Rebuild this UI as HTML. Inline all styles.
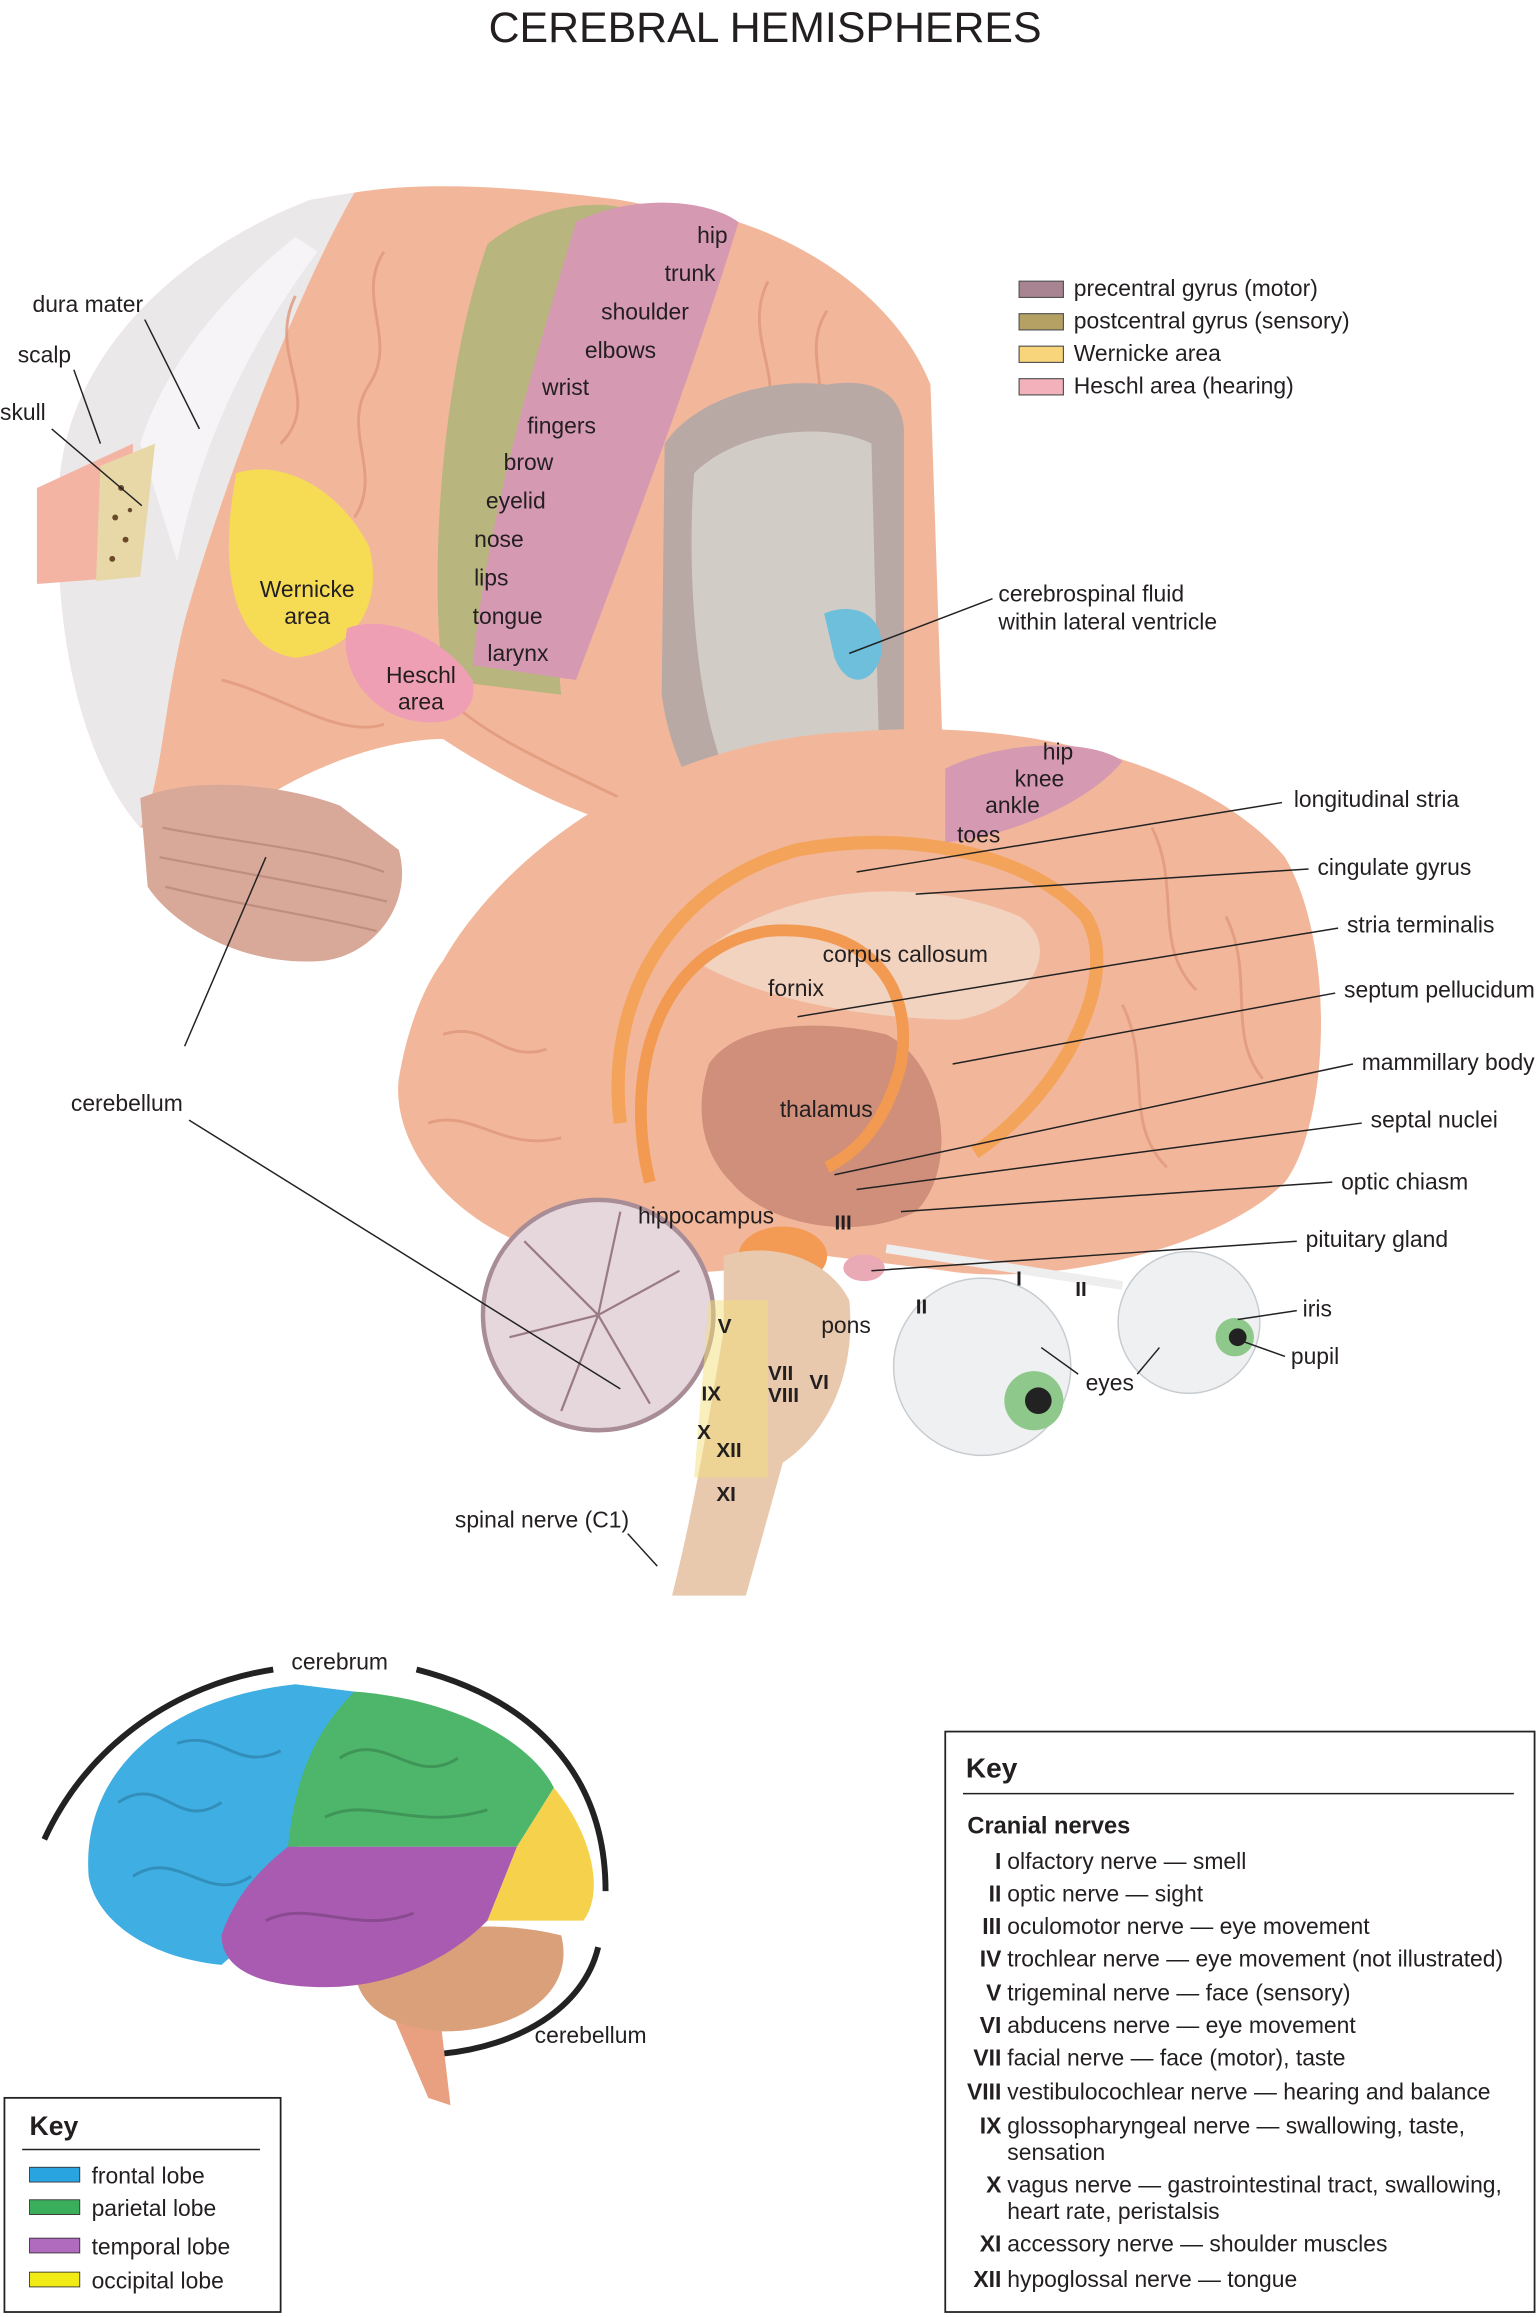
<!DOCTYPE html>
<html><head><meta charset="utf-8"><style>
html,body{margin:0;padding:0;background:#fff}
svg{display:block}
text{font-family:"Liberation Sans",Arial,sans-serif;fill:#231f20}
</style></head><body>
<svg width="1539" height="2317" viewBox="0 0 1042 1568" xmlns="http://www.w3.org/2000/svg">
<text x="518" y="28" font-size="29" text-anchor="middle" fill="#333">CEREBRAL HEMISPHERES</text>

<!-- upper brain -->
<path d="M40,330 C45,240 120,170 210,135 L240,130 C300,120 380,130 420,135 L500,150 C560,170 610,210 630,260 L640,560 L540,580 L440,560 C400,560 330,520 300,500 C260,500 200,520 150,560 L95,560 C60,520 35,440 40,330Z" fill="#f2b79b"/>
<path d="M40,330 C45,240 120,170 210,135 L240,130 C200,200 150,330 125,420 C110,480 110,530 95,560 C60,520 35,440 40,330Z" fill="#ebe8ea"/>
<path d="M95,300 C110,250 150,200 200,160 L215,170 C170,230 135,300 120,380 Z" fill="#f6f4f6"/>
<g fill="none" stroke="#e0987c" stroke-width="2" opacity="0.8">
<path d="M260,170 C240,200 270,230 250,260 C230,290 260,320 240,350"/>
<path d="M200,200 C180,240 220,270 190,300"/>
<path d="M150,460 C190,470 230,500 260,490"/>
<path d="M520,190 C500,230 540,260 510,300"/>
<path d="M560,210 C540,240 570,270 545,300"/>
<path d="M300,470 C330,500 380,520 420,540"/>
</g>
<path d="M330,165 C360,140 400,135 420,140 C400,250 370,380 380,470 L300,460 C290,380 300,250 330,165Z" fill="#b8b57e"/>
<path d="M390,150 C430,130 480,135 500,150 C470,250 420,380 390,460 L320,450 C330,350 360,250 390,150Z" fill="#d699b2"/>
<path d="M160,320 C190,310 230,330 250,370 C260,410 240,440 200,445 C165,440 145,400 160,320Z" fill="#f6dc55"/>
<path d="M235,425 C260,415 300,430 320,460 C325,485 300,495 270,485 C245,475 230,450 235,425Z" fill="#ef9fb3"/>
<path d="M95,540 C130,525 190,530 230,545 L270,575 C280,610 255,645 220,650 C170,655 120,630 100,600Z" fill="#d8a898"/>
<g fill="none" stroke="#c08e80" stroke-width="1.5"><path d="M110,560 C160,570 220,575 260,590"/><path d="M108,580 C160,590 220,600 262,610"/><path d="M112,600 C160,612 215,620 255,630"/></g>
<!-- coronal section -->
<path d="M450,300 C470,270 520,255 560,260 C590,255 610,265 612,290 L612,520 C600,555 560,575 520,575 C480,565 455,520 448,470Z" fill="#b8a9a5"/>
<path d="M470,320 C500,290 560,285 590,300 L595,500 C570,540 520,545 490,520 C470,470 465,380 470,320Z" fill="#d2ccc6"/>
<path d="M558,415 C575,408 598,412 597,440 C595,460 575,470 565,445 Z" fill="#6dbfdc"/>
<!-- scalp/skull -->
<path d="M25,330 L90,300 L90,390 L25,395Z" fill="#f4b4a4"/>
<path d="M68,315 L105,300 L95,390 L65,393Z" fill="#e8d8a8"/>
<g fill="#6b4a2a"><circle cx="82" cy="330" r="2"/><circle cx="78" cy="350" r="2"/><circle cx="85" cy="365" r="2"/><circle cx="76" cy="378" r="2"/><circle cx="88" cy="345" r="1.5"/></g>

<!-- medial brain -->
<path d="M300,650 C340,580 440,500 580,495 C700,485 820,520 870,580 C905,640 900,760 870,800 C820,850 700,870 640,860 L560,850 C500,860 440,870 380,850 C300,830 265,770 270,730 C275,700 285,670 300,650Z" fill="#f2b79b"/>
<g fill="none" stroke="#e0987c" stroke-width="2" opacity="0.8">
<path d="M300,700 C330,690 340,720 370,710"/><path d="M290,760 C320,750 340,780 380,770"/>
<path d="M780,560 C800,600 780,640 810,670"/><path d="M830,620 C850,660 830,700 855,730"/>
<path d="M760,680 C780,720 760,760 790,790"/>
</g>
<path d="M640,520 C680,500 740,500 760,515 C740,540 690,565 640,570Z" fill="#d699b2"/>
<path d="M470,650 C520,600 620,590 690,620 C720,640 700,680 650,690 C600,690 520,680 470,650Z" fill="#f1d3c0"/>
<path d="M480,720 C500,690 560,690 600,700 C640,720 650,790 620,820 C580,840 520,830 495,800 C475,780 470,750 480,720Z" fill="#cf8f7a"/>
<path d="M420,760 C410,680 450,600 540,575 C620,560 700,580 735,620 C760,660 720,740 660,780" fill="none" stroke="#f4a35a" stroke-width="9"/>
<path d="M440,800 C420,720 450,640 520,630 C580,625 620,660 610,720 C600,760 580,780 560,790" fill="none" stroke="#f29a52" stroke-width="8"/>
<ellipse cx="530" cy="850" rx="30" ry="20" fill="#f39b55"/>
<ellipse cx="585" cy="858" rx="14" ry="9" fill="#e9a9b5"/>
<!-- cerebellum section -->
<circle cx="405" cy="890" r="78" fill="#e6d7dc" stroke="#a88c96" stroke-width="3"/>
<g stroke="#9a7a86" stroke-width="1.5" fill="none"><path d="M405,890 L355,840"/><path d="M405,890 L345,905"/><path d="M405,890 L380,955"/><path d="M405,890 L440,950"/><path d="M405,890 L460,860"/><path d="M405,890 L420,820"/></g>
<!-- brainstem -->
<path d="M490,850 C520,840 560,850 575,880 C580,930 560,970 530,990 L505,1080 L455,1080 C470,1020 480,960 490,900Z" fill="#e8c9ae"/>
<path d="M480,880 L520,880 L520,1000 L470,1000Z" fill="#f2e07a" opacity="0.5"/>
<!-- eyes -->
<circle cx="665" cy="925" r="60" fill="#eef0f2" stroke="#c8ccd0"/>
<circle cx="700" cy="948" r="20" fill="#8ec88a"/><circle cx="703" cy="948" r="9" fill="#222"/>
<circle cx="805" cy="895" r="48" fill="#eef0f2" stroke="#c8ccd0"/>
<circle cx="836" cy="905" r="13" fill="#8ec88a"/><circle cx="838" cy="905" r="6" fill="#222"/>
<line x1="600" y1="845" x2="760" y2="870" stroke="#eee" stroke-width="6"/>

<!-- labels upper -->
<g font-size="15.5">
<text x="22" y="211">dura mater</text><line x1="98" y1="216" x2="135" y2="290" stroke="#222"/>
<text x="12" y="245">scalp</text><line x1="50" y1="250" x2="68" y2="300" stroke="#222"/>
<text x="0" y="284">skull</text><line x1="35" y1="290" x2="96" y2="342" stroke="#222"/>
<text x="472" y="164">hip</text><text x="450" y="190">trunk</text><text x="407" y="216">shoulder</text>
<text x="396" y="242">elbows</text><text x="367" y="267">wrist</text><text x="357" y="293">fingers</text>
<text x="341" y="318">brow</text><text x="329" y="344">eyelid</text><text x="321" y="370">nose</text>
<text x="321" y="396">lips</text><text x="320" y="422">tongue</text><text x="330" y="447">larynx</text>
<text x="208" y="404" text-anchor="middle">Wernicke</text><text x="208" y="422" text-anchor="middle">area</text>
<text x="285" y="462" text-anchor="middle">Heschl</text><text x="285" y="480" text-anchor="middle">area</text>
<text x="676" y="407">cerebrospinal fluid</text><text x="676" y="426">within lateral ventricle</text>
<line x1="672" y1="405" x2="575" y2="442" stroke="#222"/>
<text x="706" y="514">hip</text><text x="687" y="532">knee</text><text x="667" y="550">ankle</text><text x="648" y="570">toes</text>
<text x="876" y="546">longitudinal stria</text><line x1="868" y1="543" x2="580" y2="590" stroke="#222"/>
<text x="892" y="592">cingulate gyrus</text><line x1="886" y1="588" x2="620" y2="605" stroke="#222"/>
<text x="912" y="631">stria terminalis</text><line x1="906" y1="628" x2="540" y2="688" stroke="#222"/>
<text x="910" y="675">septum pellucidum</text><line x1="904" y1="672" x2="645" y2="720" stroke="#222"/>
<text x="922" y="724">mammillary body</text><line x1="916" y1="720" x2="565" y2="795" stroke="#222"/>
<text x="928" y="763">septal nuclei</text><line x1="922" y1="760" x2="580" y2="805" stroke="#222"/>
<text x="908" y="805">optic chiasm</text><line x1="902" y1="800" x2="610" y2="820" stroke="#222"/>
<text x="884" y="844">pituitary gland</text><line x1="878" y1="840" x2="590" y2="860" stroke="#222"/>
<text x="557" y="651">corpus callosum</text><text x="520" y="674">fornix</text>
<text x="528" y="756">thalamus</text><text x="432" y="828">hippocampus</text>
<text x="556" y="902">pons</text><text x="882" y="891">iris</text><line x1="878" y1="887" x2="838" y2="893" stroke="#222"/>
<text x="874" y="923">pupil</text><line x1="870" y1="918" x2="842" y2="908" stroke="#222"/>
<text x="735" y="941">eyes</text><line x1="730" y1="930" x2="705" y2="912" stroke="#222"/><line x1="770" y1="930" x2="785" y2="912" stroke="#222"/>
<text x="48" y="752">cerebellum</text><line x1="125" y1="708" x2="180" y2="580" stroke="#222"/><line x1="128" y1="758" x2="420" y2="940" stroke="#222"/>
<text x="308" y="1034">spinal nerve (C1)</text><line x1="425" y1="1038" x2="445" y2="1060" stroke="#222"/>
</g>
<g font-size="14" font-weight="bold">
<text x="565" y="832">III</text><text x="688" y="870">I</text><text x="728" y="877">II</text><text x="620" y="889">II</text>
<text x="486" y="902">V</text><text x="520" y="934">VII</text><text x="520" y="949">VIII</text><text x="548" y="940">VI</text>
<text x="475" y="948">IX</text><text x="472" y="974">X</text><text x="485" y="986">XII</text><text x="485" y="1016">XI</text>
</g>
<!-- legend top -->
<g font-size="15.5">
<rect x="690" y="190" width="30" height="11" fill="#a88392" stroke="#555" stroke-width="0.8"/><text x="727" y="200">precentral gyrus (motor)</text>
<rect x="690" y="212" width="30" height="11" fill="#b5a164" stroke="#555" stroke-width="0.8"/><text x="727" y="222">postcentral gyrus (sensory)</text>
<rect x="690" y="234" width="30" height="11" fill="#f8d47a" stroke="#555" stroke-width="0.8"/><text x="727" y="244">Wernicke area</text>
<rect x="690" y="256" width="30" height="11" fill="#f3b1bb" stroke="#555" stroke-width="0.8"/><text x="727" y="266">Heschl area (hearing)</text>
</g>

<!-- lower left brain -->
<path d="M30,1245 C60,1180 120,1140 185,1130" fill="none" stroke="#222" stroke-width="4"/>
<path d="M282,1130 C360,1150 410,1200 410,1280" fill="none" stroke="#222" stroke-width="4"/>
<path d="M405,1318 C395,1360 350,1385 300,1390" fill="none" stroke="#222" stroke-width="4"/>
<text x="230" y="1130" font-size="15.5" text-anchor="middle">cerebrum</text>
<text x="362" y="1383" font-size="15.5">cerebellum</text>
<path d="M260,1350 L290,1420 L305,1425 L295,1340Z" fill="#e9a080"/>
<path d="M240,1330 C280,1300 340,1300 380,1310 C390,1350 350,1375 300,1375 C260,1372 240,1355 240,1330Z" fill="#d9a07a"/>
<path d="M60,1270 C55,1200 110,1150 200,1140 L240,1145 C215,1190 200,1240 195,1290 C180,1310 160,1320 150,1330 C100,1325 65,1300 60,1270Z" fill="#3eaee3"/>
<path d="M240,1145 C310,1150 360,1180 375,1210 L350,1250 L195,1250 C200,1200 215,1170 240,1145Z" fill="#4db66b"/>
<path d="M375,1210 C400,1240 410,1280 395,1300 L330,1300 L350,1250Z" fill="#f6d24c"/>
<path d="M195,1250 L350,1250 L330,1300 C300,1330 260,1345 220,1345 C180,1345 150,1335 150,1310 C160,1280 180,1262 195,1250Z" fill="#a85bb0"/>
<g fill="none" stroke="#000" stroke-opacity="0.18" stroke-width="2">
<path d="M80,1220 C110,1200 120,1240 150,1220"/><path d="M90,1270 C120,1250 140,1290 170,1270"/><path d="M120,1180 C150,1170 160,1200 190,1185"/>
<path d="M230,1190 C260,1170 280,1210 310,1190"/><path d="M220,1230 C250,1215 280,1240 330,1225"/>
<path d="M180,1300 C210,1285 240,1310 280,1295"/></g>

<!-- key left -->
<rect x="3" y="1420" width="187" height="145" fill="#fff" stroke="#222" stroke-width="1.2"/>
<text x="20" y="1445" font-size="18" font-weight="bold">Key</text>
<line x1="15" y1="1455" x2="176" y2="1455" stroke="#222"/>
<g font-size="15.5">
<rect x="20" y="1467" width="34" height="10" fill="#2aa4e0" stroke="#333" stroke-width="0.6"/><text x="62" y="1478">frontal lobe</text>
<rect x="20" y="1489" width="34" height="10" fill="#3aae5a" stroke="#333" stroke-width="0.6"/><text x="62" y="1500">parietal lobe</text>
<rect x="20" y="1515" width="34" height="10" fill="#b06bbf" stroke="#333" stroke-width="0.6"/><text x="62" y="1526">temporal lobe</text>
<rect x="20" y="1538" width="34" height="10" fill="#f2ea14" stroke="#333" stroke-width="0.6"/><text x="62" y="1549">occipital lobe</text>
</g>

<!-- key right -->
<rect x="640" y="1172" width="399" height="393" fill="#fff" stroke="#222" stroke-width="1.2"/>
<text x="654" y="1203" font-size="19" font-weight="bold">Key</text>
<line x1="652" y1="1214" x2="1025" y2="1214" stroke="#222"/>
<text x="655" y="1241" font-size="16" font-weight="bold">Cranial nerves</text>
<g font-size="15.5">
<g font-weight="bold" text-anchor="end">
<text x="678" y="1265">I</text><text x="678" y="1287">II</text><text x="678" y="1309">III</text><text x="678" y="1331">IV</text>
<text x="678" y="1354">V</text><text x="678" y="1376">VI</text><text x="678" y="1398">VII</text><text x="678" y="1421">VIII</text>
<text x="678" y="1444">IX</text><text x="678" y="1484">X</text><text x="678" y="1524">XI</text><text x="678" y="1548">XII</text>
</g>
<text x="682" y="1265">olfactory nerve — smell</text>
<text x="682" y="1287">optic nerve — sight</text>
<text x="682" y="1309">oculomotor nerve — eye movement</text>
<text x="682" y="1331">trochlear nerve — eye movement (not illustrated)</text>
<text x="682" y="1354">trigeminal nerve — face (sensory)</text>
<text x="682" y="1376">abducens nerve — eye movement</text>
<text x="682" y="1398">facial nerve — face (motor), taste</text>
<text x="682" y="1421">vestibulocochlear nerve — hearing and balance</text>
<text x="682" y="1444">glossopharyngeal nerve — swallowing, taste,</text>
<text x="682" y="1462">sensation</text>
<text x="682" y="1484">vagus nerve — gastrointestinal tract, swallowing,</text>
<text x="682" y="1502">heart rate, peristalsis</text>
<text x="682" y="1524">accessory nerve — shoulder muscles</text>
<text x="682" y="1548">hypoglossal nerve — tongue</text>
</g>
</svg>
</body></html>
